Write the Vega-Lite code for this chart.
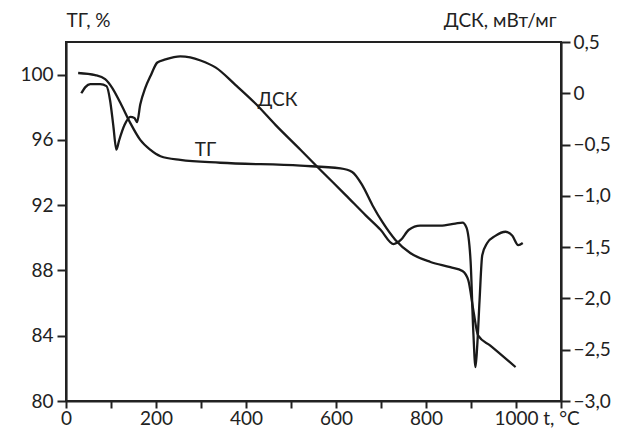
{
  "$schema": "https://vega.github.io/schema/vega-lite/v6.json",
  "autosize": {"type": "none"},
  "padding": {"left": 66, "top": 42, "right": 57, "bottom": 31},
  "width": 495,
  "height": 359,
  "background": "white",
  "config": {
    "view": {"stroke": "#222", "strokeWidth": 2},
    "font": "Lato",
    "axis": {
      "domainColor": "#222", "domainWidth": 2.2, "tickColor": "#222", "tickWidth": 2,
      "labelColor": "#222", "labelFont": "Lato", "labelFontSize": 19, "titleFont": "Lato",
      "titleFontSize": 19, "titleFontWeight": "normal", "titleColor": "#222",
      "grid": false, "labelOverlap": false, "labelFlush": false
    }
  },
  "datasets": {
    "tg": [
      {"t": 27, "v": 100.1}, {"t": 65, "v": 99.97}, {"t": 87, "v": 99.73}, {"t": 103, "v": 99.18},
      {"t": 121, "v": 98.26}, {"t": 143, "v": 97.03}, {"t": 165, "v": 96.0}, {"t": 187, "v": 95.4},
      {"t": 210, "v": 95.0}, {"t": 254, "v": 94.77}, {"t": 343, "v": 94.6}, {"t": 521, "v": 94.42},
      {"t": 610, "v": 94.25}, {"t": 636, "v": 94.03}, {"t": 658, "v": 93.24}, {"t": 681, "v": 92.0},
      {"t": 703, "v": 90.97}, {"t": 732, "v": 89.87}, {"t": 765, "v": 89.07}, {"t": 810, "v": 88.52},
      {"t": 854, "v": 88.2}, {"t": 881, "v": 87.97}, {"t": 894, "v": 87.4}, {"t": 905, "v": 85.6},
      {"t": 916, "v": 84.0}, {"t": 943, "v": 83.4}, {"t": 999, "v": 82.08}
    ],
    "dsc": [
      {"t": 34, "v": 0.0}, {"t": 43, "v": 0.06}, {"t": 54, "v": 0.09}, {"t": 76, "v": 0.09},
      {"t": 90, "v": 0.07}, {"t": 98, "v": -0.07}, {"t": 105, "v": -0.31}, {"t": 112, "v": -0.55},
      {"t": 118, "v": -0.46}, {"t": 130, "v": -0.31}, {"t": 143, "v": -0.23}, {"t": 152, "v": -0.24},
      {"t": 158, "v": -0.28}, {"t": 165, "v": -0.11}, {"t": 176, "v": 0.05}, {"t": 188, "v": 0.17},
      {"t": 203, "v": 0.3}, {"t": 221, "v": 0.33}, {"t": 254, "v": 0.36}, {"t": 276, "v": 0.35},
      {"t": 299, "v": 0.32}, {"t": 333, "v": 0.25}, {"t": 377, "v": 0.08}, {"t": 421, "v": -0.1},
      {"t": 466, "v": -0.31}, {"t": 521, "v": -0.55}, {"t": 566, "v": -0.75}, {"t": 621, "v": -0.99},
      {"t": 666, "v": -1.19}, {"t": 699, "v": -1.33}, {"t": 728, "v": -1.47}, {"t": 744, "v": -1.43},
      {"t": 762, "v": -1.33}, {"t": 787, "v": -1.29}, {"t": 832, "v": -1.29}, {"t": 865, "v": -1.27},
      {"t": 881, "v": -1.26}, {"t": 890, "v": -1.31}, {"t": 899, "v": -1.63}, {"t": 905, "v": -2.31},
      {"t": 910, "v": -2.67}, {"t": 914, "v": -2.45}, {"t": 919, "v": -2.02}, {"t": 925, "v": -1.58},
      {"t": 936, "v": -1.46}, {"t": 954, "v": -1.39}, {"t": 977, "v": -1.35}, {"t": 992, "v": -1.39},
      {"t": 1005, "v": -1.48}, {"t": 1015, "v": -1.46}
    ],
    "labels": [
      {"t": 470, "v": 98.44, "label": "ДСК"},
      {"t": 310, "v": 95.38, "label": "ТГ"}
    ]
  },
  "layer": [
    {
      "layer": [
        {
          "data": {"name": "tg"},
          "mark": {"type": "line", "color": "#1a1a1a", "strokeWidth": 2.3, "interpolate": "monotone"},
          "encoding": {
            "x": {
              "field": "t", "type": "quantitative",
              "scale": {"domain": [0, 1100], "nice": false},
              "axis": {
                "values": [0, 100, 200, 300, 400, 500, 600, 700, 800, 900, 1000, 1100],
                "format": "d",
                "labelExpr": "datum.value == 1100 ? 't, °C' : (datum.value % 200 == 0 ? datum.label : '')",
                "tickSize": 7, "labelPadding": 1, "title": null
              }
            },
            "y": {
              "field": "v", "type": "quantitative",
              "scale": {"domain": [80, 102], "nice": false, "zero": false},
              "axis": {
                "orient": "left",
                "values": [80, 82, 84, 86, 88, 90, 92, 94, 96, 98, 100, 102],
                "labelExpr": "datum.value % 4 == 0 && datum.value <= 100 ? datum.label : ''",
                "tickSize": 9, "labelPadding": 4,
                "title": "ТГ, %", "titleAngle": 0, "titleAlign": "left", "titleAnchor": null,
                "titleX": 0, "titleY": -22, "titleBaseline": "middle"
              }
            }
          }
        },
        {
          "data": {"name": "labels"},
          "mark": {"type": "text", "font": "Lato", "fontSize": 19, "color": "#222", "align": "center", "baseline": "middle"},
          "encoding": {
            "x": {"field": "t", "type": "quantitative"},
            "y": {"field": "v", "type": "quantitative"},
            "text": {"field": "label"}
          }
        }
      ]
    },
    {
      "data": {"name": "dsc"},
      "mark": {"type": "line", "color": "#1a1a1a", "strokeWidth": 2.3, "interpolate": "monotone"},
      "encoding": {
        "x": {"field": "t", "type": "quantitative"},
        "y": {
          "field": "v", "type": "quantitative",
          "scale": {"domain": [-3, 0.5], "nice": false, "zero": false},
          "axis": {
            "orient": "right",
            "values": [-3, -2.5, -2, -1.5, -1, -0.5, 0, 0.5],
            "labelExpr": "datum.value == 0 ? '0' : replace(format(datum.value, '.1f'), '.', ',')",
            "tickSize": 9, "labelPadding": 3,
            "title": "ДСК, мВт/мг", "titleAngle": 0, "titleAlign": "right", "titleAnchor": null,
            "titleX": -5, "titleY": -22, "titleBaseline": "middle"
          }
        }
      }
    }
  ],
  "resolve": {"scale": {"y": "independent"}}
}
